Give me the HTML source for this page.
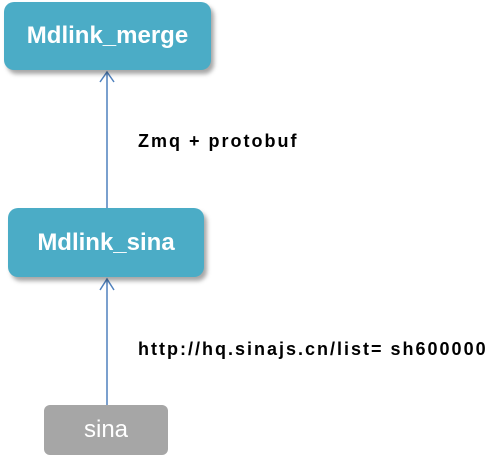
<!DOCTYPE html>
<html><head><style>
body{margin:0;width:493px;height:450px;background:#fff;position:relative;overflow:hidden;font-family:"Liberation Sans",sans-serif}
.b{position:absolute;background:#4bacc6;border-radius:10px;color:#fff;font-weight:bold;font-size:24px;display:flex;align-items:center;justify-content:center;box-shadow:3px 4px 4px rgba(0,0,0,0.35)}
.t{position:absolute;font-weight:bold;font-size:18px;letter-spacing:2px;color:#000;white-space:nowrap}
</style></head><body>
<svg width="493" height="450" style="position:absolute;left:0;top:0">
<line x1="107" y1="208" x2="107" y2="72" stroke="#4f81bd" stroke-width="1.5"/>
<polyline points="100,82 107,72 114,82" fill="none" stroke="#4f81bd" stroke-width="1.5"/>
<line x1="107" y1="405" x2="107" y2="279" stroke="#4f81bd" stroke-width="1.5"/>
<polyline points="100,290 107,279 114,290" fill="none" stroke="#4f81bd" stroke-width="1.5"/>
</svg>
<div class="b" style="left:4px;top:2px;width:207px;height:68px">Mdlink_merge</div>
<div class="b" style="left:8px;top:208px;width:196px;height:69px">Mdlink_sina</div>
<div class="b" style="left:44px;top:405px;width:124px;height:50px;background:#a6a6a6;border-radius:6px;font-weight:normal;font-size:24px;box-shadow:none">sina</div>
<div class="t" style="left:138px;top:131px">Zmq + protobuf</div>
<div class="t" style="left:138px;top:339px">http://hq.sinajs.cn/list= sh600000</div>
</body></html>
